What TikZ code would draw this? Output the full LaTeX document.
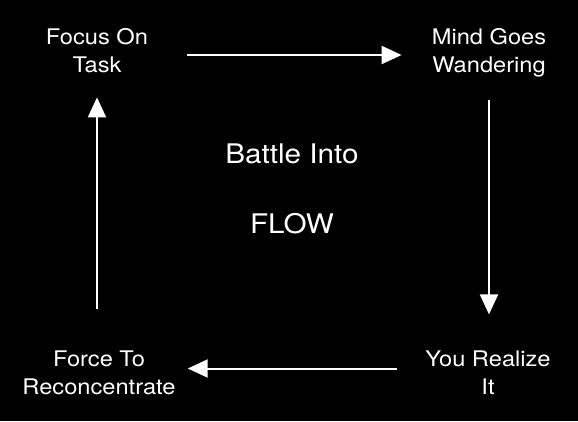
\documentclass[tikz,border=0pt]{standalone}
\usepackage{fontspec}
\setmainfont{TeX Gyre Heros}[FakeStretch=1.1]
\usetikzlibrary{arrows.meta,positioning}
\tikzstyle{corner} = [text=white, align=center, inner sep=0pt,
    font=\fontsize{21.5}{28}\selectfont]
\tikzstyle{centre} = [text=white, inner sep=0pt, anchor=base,
    font=\fontsize{27}{30}\selectfont]
\tikzstyle{arrow} = [-{Triangle[length=20pt, width=18pt]}, line width=2pt, white]

\begin{document}
\begin{tikzpicture}[x=1pt, y=-1pt]
\fill[black] (0,0) rectangle (578,421);
\node[corner] (focus) at (97,51) {Focus On\\Task};
\node[corner] (mind) at (489,53) {Mind Goes\\Wandering};
\node[corner] (real) at (488,372.5) {You Realize\\It};
\node[corner] (force) at (99,372.5) {Force To\\Reconcentrate};
\node[centre] (battle) at (292,163) {Battle Into};
\node[centre] (flow) at (292,233) {FLOW};
\draw[arrow, shorten <=39pt, shorten >=30pt] ([yshift=-4pt]focus.east) -- ([yshift=-4pt]focus.east -| mind.west);
\draw[arrow, shorten <=22pt, shorten >=36pt] (mind.south) -- (mind.south |- real.north);
\draw[arrow, shorten <=28pt, shorten >=12pt] ([yshift=4pt]real.west) -- ([yshift=4pt]real.west -| force.east);
\draw[arrow, shorten <=41pt, shorten >=24pt] (focus.south |- force.north) -- (focus.south);
\end{tikzpicture}
\end{document}
